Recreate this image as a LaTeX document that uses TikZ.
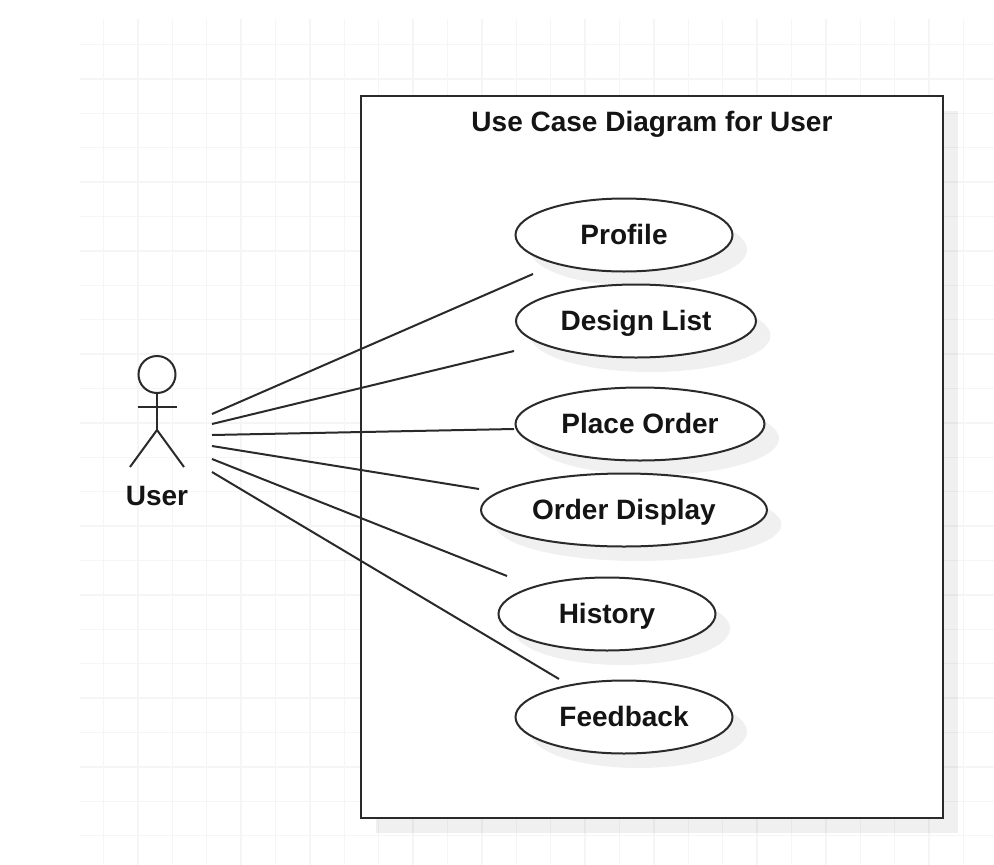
\documentclass[tikz,border=0pt]{standalone}
\usepackage{fontspec}
\setmainfont{Liberation Sans}
\usetikzlibrary{shapes.geometric,shadows}
\definecolor{gridgray}{HTML}{F5F5F5}
\definecolor{inkgray}{HTML}{2A2A2A}
\tikzset{
  flatshadow/.style={general shadow={shadow xshift=14.5pt,shadow yshift=-14.5pt,fill=black,opacity=.06}},
  label/.style={font=\fontsize{28}{30}\selectfont\bfseries,text=black!92,text height=20pt,text depth=2pt},
  usecase/.style={ellipse,draw=inkgray,line width=2pt,fill=white,minimum height=73pt,inner sep=0pt,flatshadow,label},
  assoc/.style={draw=inkgray,line width=2pt},
  gridline/.style={draw=gridgray,line width=1.3pt}
}
\begin{document}
\begin{tikzpicture}[x=1pt,y=-1pt]
\useasboundingbox (0,0) rectangle (994,865);
\foreach \k in {0,...,25} \draw[gridline] ({103.5+34.4*\k},19)--({103.5+34.4*\k},865);
\foreach \k in {0,...,23} \draw[gridline] (80,{44.5+34.4*\k})--(994,{44.5+34.4*\k});
\node[draw=inkgray,line width=2pt,fill=white,minimum width=582pt,minimum height=722pt,inner sep=0pt,flatshadow] (frame) at (652,457) {};
\node[label] (title) at (652,122) {Use Case Diagram for User};
\node[usecase,minimum width=217pt] (profile) at (624,235) {Profile};
\node[usecase,minimum width=240pt] (designlist) at (636,321) {Design List};
\node[usecase,minimum width=249pt] (placeorder) at (640,424) {Place Order};
\node[usecase,minimum width=286pt] (orderdisplay) at (624,510) {Order Display};
\node[usecase,minimum width=217pt] (history) at (607,614) {History};
\node[usecase,minimum width=217pt] (feedback) at (624,717) {Feedback};
% actor
\coordinate (hip) at (157,430);
\node[circle,draw=inkgray,line width=2pt,minimum size=37pt,inner sep=0pt] (head) at (157,374.5) {};
\draw[assoc] (head.south)--(hip);
\coordinate (larm) at (137.5,407);
\coordinate (rarm) at (176.5,407);
\coordinate (lfoot) at (130,467);
\coordinate (rfoot) at (184,467);
\draw[assoc] (larm)--(rarm);
\draw[assoc] (lfoot)--(hip)--(rfoot);
\node[label] (user) at (157,496) {User};
% links
\coordinate (u1) at (212,414);
\coordinate (u2) at (212,424);
\coordinate (u3) at (212,435);
\coordinate (u4) at (212,446);
\coordinate (u5) at (212,459);
\coordinate (u6) at (212,472);
\coordinate (e1) at (533,274);
\coordinate (e2) at (514,351);
\coordinate (e3) at (514,429);
\coordinate (e4) at (479,489);
\coordinate (e5) at (507,576);
\coordinate (e6) at (559,679);
\foreach \i in {1,...,6} \draw[assoc] (u\i)--(e\i);
\end{tikzpicture}
\end{document}
